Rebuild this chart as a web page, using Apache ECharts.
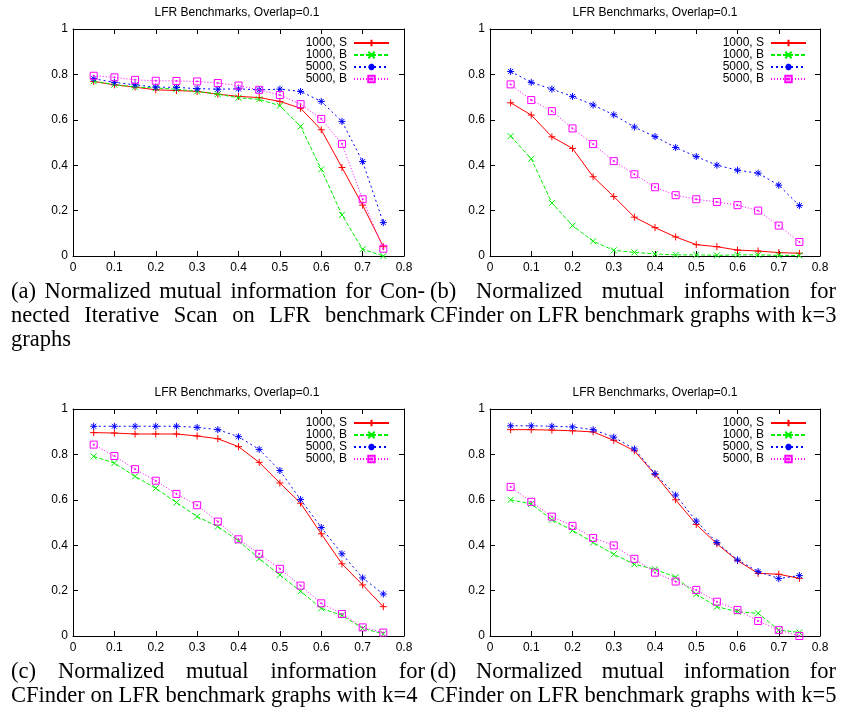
<!DOCTYPE html>
<html><head><meta charset="utf-8">
<script src="https://cdn.jsdelivr.net/npm/echarts@6/dist/echarts.min.js"></script>
<style>html,body{margin:0;padding:0;background:#fff}#c{width:841px;height:713px}</style>
</head><body><div id="c"></div><script>
// ---- data ----
const xValues = [0.05,0.1,0.15,0.2,0.25,0.3,0.35,0.4,0.45,0.5,0.55,0.6,0.65,0.7,0.75];
const seriesNames = ['1000, S','1000, B','5000, S','5000, B'];
const chartTitle = 'LFR Benchmarks, Overlap=0.1';

// (a) Connected Iterative Scan
const a_1000S = [0.769,0.754,0.744,0.732,0.729,0.725,0.713,0.703,0.698,0.681,0.651,0.556,0.390,0.224,0.041];
const a_1000B = [0.770,0.755,0.745,0.740,0.735,0.725,0.713,0.697,0.690,0.662,0.571,0.382,0.181,0.030,0.000];
const a_5000S = [0.781,0.765,0.754,0.744,0.743,0.737,0.735,0.736,0.732,0.735,0.725,0.681,0.593,0.416,0.147];
const a_5000B = [0.794,0.787,0.776,0.772,0.771,0.769,0.762,0.751,0.732,0.709,0.669,0.604,0.494,0.250,0.032];
// (b) CFinder k=3
const b_1000S = [0.675,0.621,0.525,0.474,0.349,0.262,0.171,0.125,0.084,0.050,0.041,0.026,0.022,0.015,0.012];
const b_1000B = [0.528,0.428,0.234,0.134,0.065,0.025,0.016,0.009,0.005,0.005,0.003,0.005,0.005,0.003,0.002];
const b_5000S = [0.813,0.765,0.735,0.703,0.665,0.622,0.568,0.526,0.478,0.438,0.400,0.378,0.365,0.312,0.222];
const b_5000B = [0.756,0.687,0.638,0.562,0.493,0.418,0.360,0.303,0.268,0.250,0.238,0.224,0.200,0.134,0.062];
// (c) CFinder k=4
const c_1000S = [0.896,0.894,0.890,0.890,0.890,0.881,0.869,0.834,0.765,0.674,0.585,0.450,0.318,0.225,0.129];
const c_1000B = [0.791,0.762,0.703,0.651,0.588,0.526,0.482,0.419,0.341,0.269,0.197,0.122,0.091,0.034,0.009];
const c_5000S = [0.924,0.924,0.924,0.924,0.924,0.919,0.909,0.878,0.822,0.729,0.601,0.478,0.362,0.256,0.185];
const c_5000B = [0.843,0.793,0.735,0.684,0.626,0.576,0.504,0.426,0.362,0.296,0.222,0.144,0.097,0.038,0.015];
// (d) CFinder k=5
const d_1000S = [0.909,0.909,0.907,0.904,0.899,0.862,0.816,0.712,0.600,0.491,0.406,0.332,0.276,0.272,0.254];
const d_1000B = [0.600,0.582,0.512,0.465,0.412,0.360,0.316,0.294,0.259,0.184,0.129,0.107,0.100,0.026,0.016];
const d_5000S = [0.926,0.926,0.924,0.921,0.909,0.876,0.824,0.715,0.621,0.506,0.412,0.335,0.284,0.253,0.266];
const d_5000B = [0.657,0.591,0.526,0.485,0.432,0.399,0.340,0.279,0.240,0.203,0.151,0.115,0.066,0.026,0.000];

const captionA = ['(a) Normalized mutual information for Con-','nected Iterative Scan on LFR benchmark','graphs'];
const captionB = ['(b) Normalized mutual information for','CFinder on LFR benchmark graphs with k=3'];
const captionC = ['(c) Normalized mutual information for','CFinder on LFR benchmark graphs with k=4'];
const captionD = ['(d) Normalized mutual information for','CFinder on LFR benchmark graphs with k=5'];

// ---- layout / style ----
const panels = [
  {grid:{left:73,top:29,width:331,height:227}, data:[a_1000S,a_1000B,a_5000S,a_5000B], titleX:232, titleY:2, legendRight:451, legendTop:37},
  {grid:{left:490,top:29,width:330,height:227}, data:[b_1000S,b_1000B,b_5000S,b_5000B], titleX:650, titleY:2, legendRight:34, legendTop:37},
  {grid:{left:73,top:409,width:331,height:227}, data:[c_1000S,c_1000B,c_5000S,c_5000B], titleX:232, titleY:382, legendRight:451, legendTop:417},
  {grid:{left:490,top:409,width:330,height:227}, data:[d_1000S,d_1000B,d_5000S,d_5000B], titleX:650, titleY:382, legendRight:34, legendTop:417}
];
const styles = [
  {color:'#ff0000', type:'solid', symbol:'path://M0,5L10,5M5,0L5,10', fill:'#ff0000', size:7},
  {color:'#00ee00', type:[4,2], symbol:'path://M0,0L10,10M10,0L0,10', fill:'#00ee00', size:6},
  {color:'#0000ff', type:[2,3], symbol:'path://M0,5L10,5M5,0L5,10M1.5,1.5L8.5,8.5M8.5,1.5L1.5,8.5', fill:'#0000ff', size:7},
  {color:'#ff00ff', type:[1,2], symbol:'path://M0,0L10,0L10,10L0,10ZM4.3,4.3L5.7,4.3L5.7,5.7L4.3,5.7Z', fill:'rgba(0,0,0,0)', size:7}
];
const LAB = {fontFamily:'"Liberation Sans", Arial, sans-serif', fontSize:12, color:'#000'};

const option = {
  animation:false,
  backgroundColor:'#fff',
  title:[], legend:[], grid:[], xAxis:[], yAxis:[], series:[], graphic:[]
};
panels.forEach((p,pi)=>{
  option.grid.push(Object.assign({containLabel:false, show:false}, p.grid));
  option.title.push({text:chartTitle, left:p.titleX, top:p.titleY, textAlign:'center',
    textStyle:{fontFamily:LAB.fontFamily, fontSize:12, fontWeight:'normal', color:'#000'}});
  option.legend.push({data:seriesNames, orient:'vertical', align:'right', right:p.legendRight, top:p.legendTop,
    itemWidth:35, itemHeight:8, itemGap:0, padding:0,
    textStyle:{fontFamily:LAB.fontFamily, fontSize:12, color:'#000', padding:[0,2,0,0]}, selectedMode:false});
  const axX = {gridIndex:pi, type:'value', min:0, max:0.8, interval:0.1,
    axisLine:{show:true, onZero:false, lineStyle:{color:'#000', width:1}},
    axisTick:{show:true, inside:true, length:5, lineStyle:{color:'#000'}},
    splitLine:{show:false}};
  option.xAxis.push(Object.assign({}, axX, {position:'bottom', axisLabel:Object.assign({margin:6}, LAB)}));
  option.xAxis.push(Object.assign({}, axX, {position:'top', axisLabel:{show:false}}));
  const axY = {gridIndex:pi, type:'value', min:0, max:1, interval:0.2,
    axisLine:{show:true, onZero:false, lineStyle:{color:'#000', width:1}},
    axisTick:{show:true, inside:true, length:5, lineStyle:{color:'#000'}},
    splitLine:{show:false}};
  option.yAxis.push(Object.assign({}, axY, {position:'left', axisLabel:Object.assign({margin:5}, LAB)}));
  option.yAxis.push(Object.assign({}, axY, {position:'right', axisLabel:{show:false}}));
  p.data.forEach((arr,si)=>{
    const s = styles[si];
    option.series.push({
      type:'line', name:seriesNames[si], xAxisIndex:pi*2, yAxisIndex:pi*2,
      data:xValues.map((x,i)=>[x,arr[i]]),
      symbol:s.symbol, symbolSize:s.size, symbolKeepAspect:true, showAllSymbol:true,
      lineStyle:{color:s.color, width:1, type:s.type},
      itemStyle:{color:s.fill, borderColor:s.color, borderWidth:1},
      emphasis:{disabled:true}, z:2+si
    });
  });
});

// captions (justified word placement; last line of each caption uses natural spacing)
const CAP_SIZE = 22.5;
const CAP_FONT = CAP_SIZE + 'px "Liberation Serif"';
const mctx = document.createElement('canvas').getContext('2d');
mctx.font = CAP_FONT;
function addCaption(lines, x0, x1, baseY) {
  lines.forEach((line, li)=>{
    const words = line.split(' ');
    const widths = words.map(w=>mctx.measureText(w).width);
    const total = widths.reduce((a,b)=>a+b,0);
    const justify = li < lines.length-1;
    const gap = justify && words.length>1 ? (x1-x0-total)/(words.length-1) : mctx.measureText(' ').width;
    let x = x0;
    words.forEach((w,i)=>{
      option.graphic.push({type:'text', x:x, y:baseY + li*24 - 5.5, silent:true,
        style:{text:w, font:CAP_FONT, fill:'#000', align:'left', verticalAlign:'middle'}});
      x += widths[i] + gap;
    });
  });
}
addCaption(captionA, 11, 425, 298);
addCaption(captionB, 430, 836, 298);
addCaption(captionC, 11, 425, 678);
addCaption(captionD, 430, 836, 678);

const chart = echarts.init(document.getElementById('c'), null, {renderer:'canvas'});
chart.setOption(option);
</script></body></html>
